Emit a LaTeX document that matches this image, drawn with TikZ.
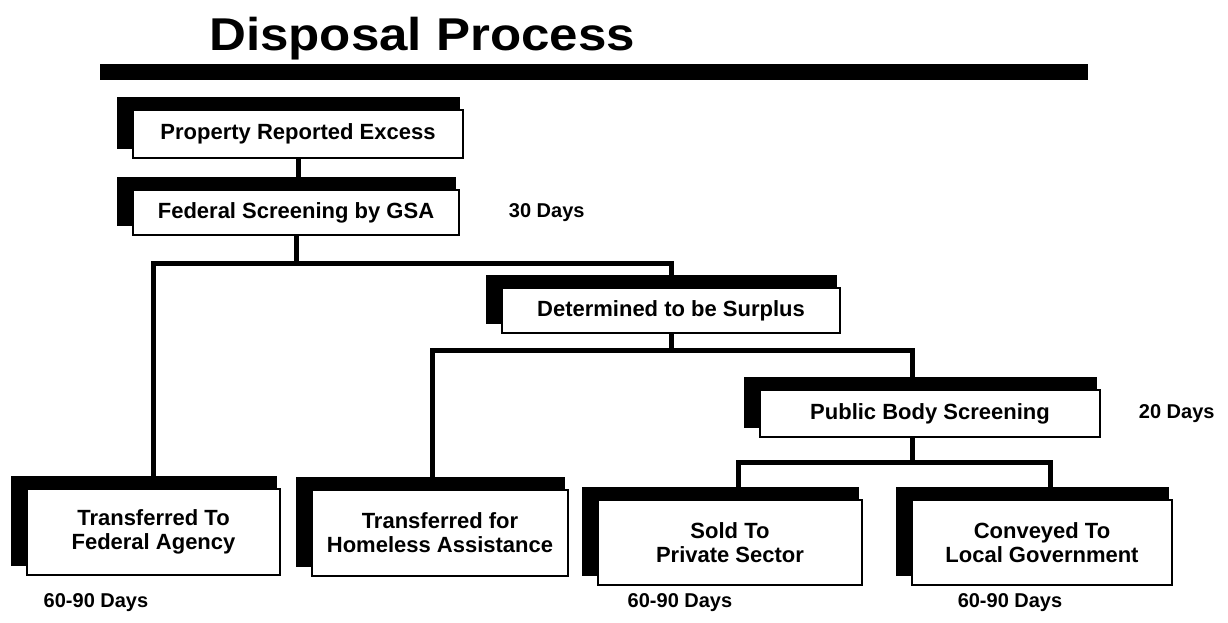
\documentclass[tikz,border=0pt]{standalone}
\usepackage{fontspec}
\setmainfont{Liberation Sans}
\usepackage{graphicx}
\usepackage{tikz}
\usetikzlibrary{positioning,calc,backgrounds}
\tikzset{
  stepbox/.style={
    draw=black,
    fill=white,
    line width=1.5pt,
    inner sep=0pt,
    align=center,
    font=\fontsize{22}{24}\selectfont\bfseries
  },
  daylabel/.style={
    inner sep=0pt,
    font=\fontsize{20}{23}\selectfont\bfseries
  },
  link/.style={
    line width=5pt,
    draw=black
  }
}

\begin{document}
\begin{tikzpicture}[x=1pt,y=-1pt]
\useasboundingbox (0,0) rectangle (1228,622);
% title and rule
\node[anchor=base west, inner sep=0pt, font=\fontsize{46}{54}\selectfont\bfseries] (title) at (209,50) {\scalebox{1.11}[1]{Disposal Process}};
\fill (100,64) rectangle (1088,80);
% boxes
\node[stepbox, minimum width=330pt, minimum height=48pt] (pre) at (298,134) {Property Reported Excess};
\node[stepbox, minimum width=326pt, minimum height=45pt] (fsg) at (296,212.5) {Federal Screening by GSA};
\node[stepbox, minimum width=338pt, minimum height=45pt] (surplus) at (671,310.5) {Determined to be Surplus};
\node[stepbox, minimum width=340pt, minimum height=47pt] (pb) at (930,413.5) {Public Body Screening};
\node[stepbox, minimum width=253pt, minimum height=86pt] (fed) at (153.5,532) {Transferred To\\Federal Agency};
\node[stepbox, minimum width=256pt, minimum height=86pt] (homeless) at (440,533) {Transferred for\\Homeless Assistance};
\node[stepbox, minimum width=264pt, minimum height=85pt] (sold) at (730,542.5) {Sold To\\Private Sector};
\node[stepbox, minimum width=260pt, minimum height=85pt] (conv) at (1042,542.5) {Conveyed To\\Local Government};
% day counts
\node[daylabel, right=49pt of fsg] (d30) {30 Days};
\node[daylabel, right=38pt of pb] (d20) {20 Days};
\node[daylabel] (fedDays) at (96,603) {60-90 Days};
\node[daylabel] (soldDays) at (680,603) {60-90 Days};
\node[daylabel] (convDays) at (1010,603) {60-90 Days};
% shadows
\begin{pgfonlayer}{background}
\fill[white] (0,0) rectangle (1228,622);
\foreach \n in {pre,fsg,surplus,pb,fed,homeless,sold,conv}
  \fill ([xshift=-15pt,yshift=12pt]\n.north west) rectangle ([xshift=-4pt,yshift=10pt]\n.south east);
\end{pgfonlayer}
% connectors
\draw[link] (pre.south) -- (pre.south |- fsg.north);
\draw[link] (fsg.south) -- ++(0,28) coordinate (j1);
\draw[link] (fed.north) |- (j1) -| (surplus.north);
\draw[link] (surplus.south) -- ++(0,17) coordinate (j2);
\draw[link] ([xshift=-8pt]homeless.north) |- (j2) -| ([xshift=-18pt]pb.north);
\draw[link] ([xshift=-18pt]pb.south) -- ++(0,25) coordinate (j3);
\draw[link] ([xshift=8pt]sold.north) |- (j3) -| ([xshift=8pt]conv.north);
\end{tikzpicture}
\end{document}
